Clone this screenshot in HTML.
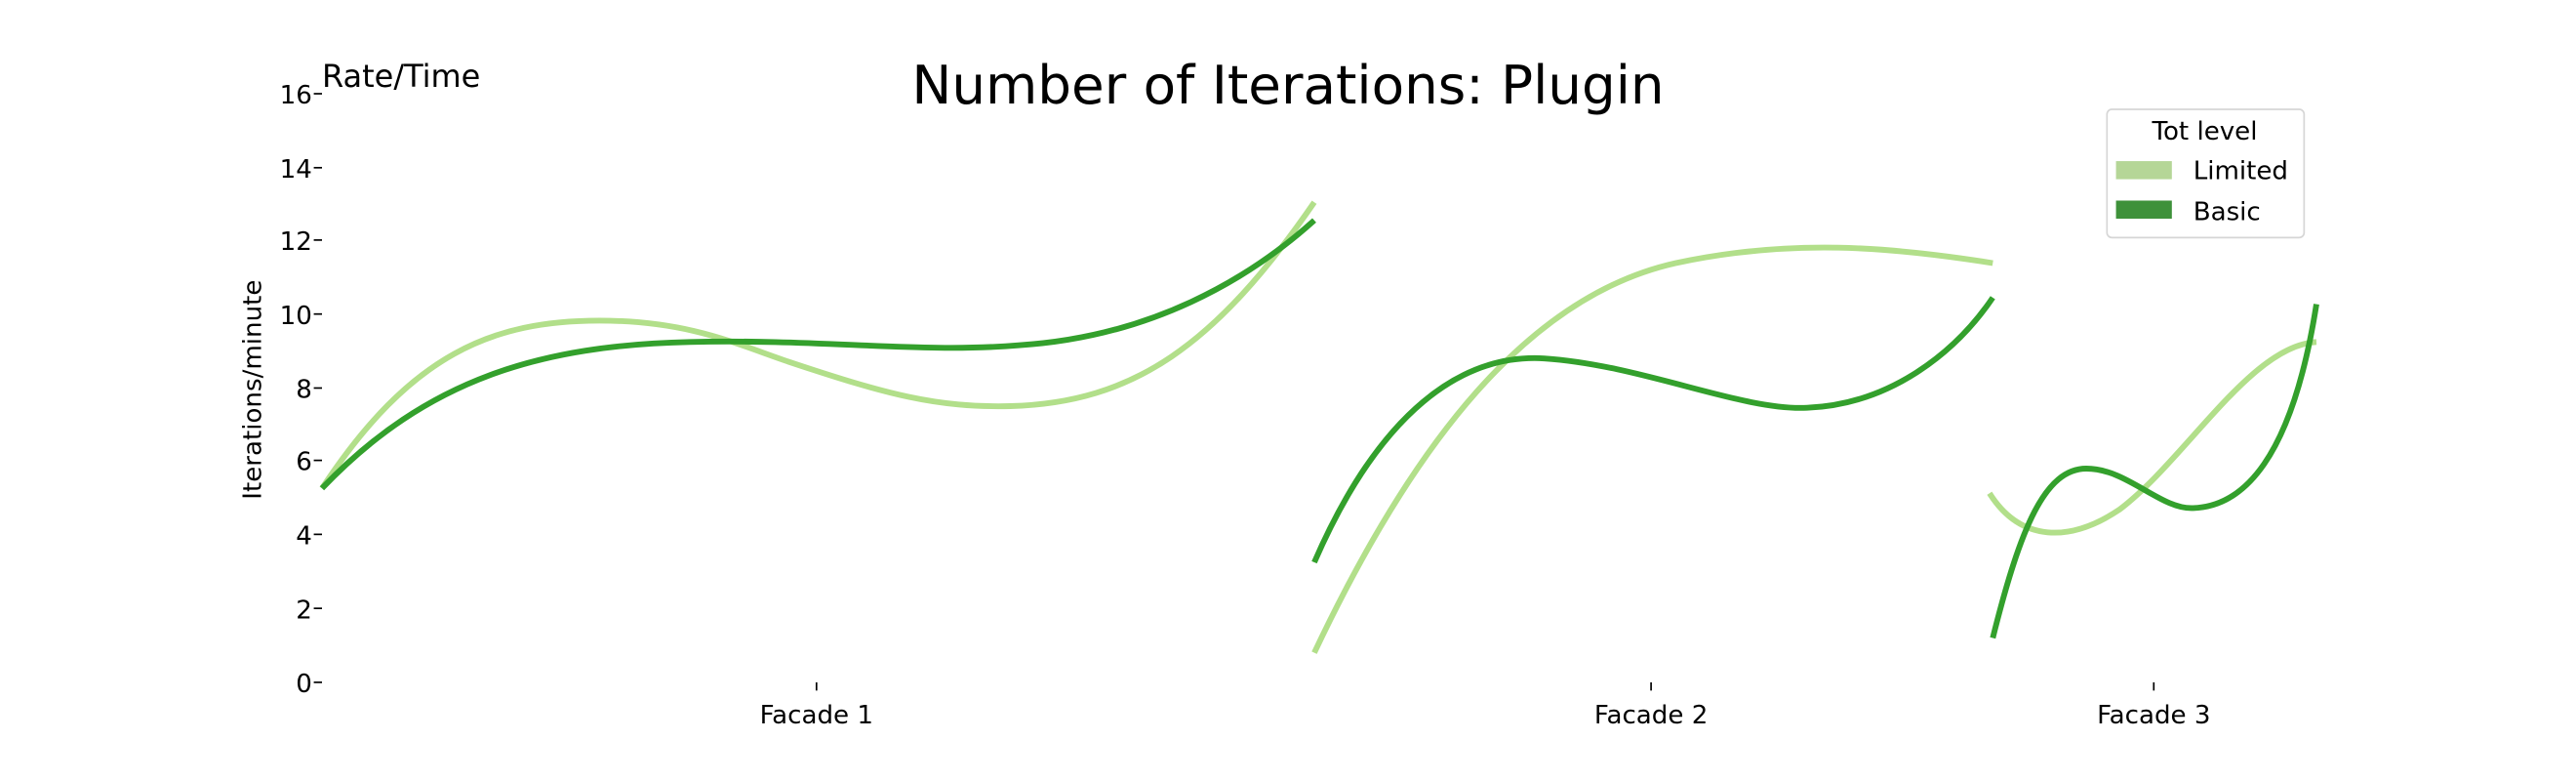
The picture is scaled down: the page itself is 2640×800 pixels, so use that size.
<!DOCTYPE html>
<html><head><meta charset="utf-8"><style>
html,body{margin:0;padding:0;background:#fff;width:2640px;height:800px;overflow:hidden}
svg{display:block}
text{font-family:"DejaVu Sans","Liberation Sans",sans-serif;fill:#000}
</style></head><body>
<svg width="2640" height="800" viewBox="0 0 1568 475" preserveAspectRatio="none">
<rect width="1568" height="475" fill="#fff"/>
<text x="784" y="63" font-size="32.5" text-anchor="middle">Number of Iterations: Plugin</text>
<text x="196" y="53" font-size="19">Rate/Time</text>
<text transform="translate(159,237) rotate(-90)" font-size="15.5" text-anchor="middle">Iterations/minute</text>
<g font-size="15.5" text-anchor="end">
<text x="190" y="63">16</text><text x="190" y="108">14</text><text x="190" y="152">12</text>
<text x="190" y="197">10</text><text x="190" y="242">8</text><text x="190" y="286">6</text>
<text x="190" y="331">4</text><text x="190" y="376">2</text><text x="190" y="421">0</text>
</g>
<g stroke="#000" stroke-width="1">
<line x1="191" y1="57" x2="196" y2="57"/><line x1="191" y1="102" x2="196" y2="102"/>
<line x1="191" y1="146" x2="196" y2="146"/><line x1="191" y1="191" x2="196" y2="191"/>
<line x1="191" y1="236" x2="196" y2="236"/><line x1="191" y1="280" x2="196" y2="280"/>
<line x1="191" y1="325" x2="196" y2="325"/><line x1="191" y1="370" x2="196" y2="370"/>
<line x1="191" y1="415" x2="196" y2="415"/>
<line x1="497" y1="415" x2="497" y2="420"/><line x1="1005" y1="415" x2="1005" y2="420"/><line x1="1311" y1="415" x2="1311" y2="420"/>
</g>
<g font-size="15.5" text-anchor="middle">
<text x="497" y="440">Facade 1</text><text x="1005" y="440">Facade 2</text><text x="1311" y="440">Facade 3</text>
</g>
<g fill="none" stroke-width="3.5">
<path stroke="#b2df8a" d="M196,297 C250,215 300,195 365,195 C420,195 450,210 480,220 C540,240 570,248 615,247 C690,245 740,210 800,123"/>
<path stroke="#33a02c" d="M196,297 C260,230 330,210 420,208 C500,206 560,215 620,210 C700,205 760,170 800,134"/>
<path stroke="#b2df8a" d="M800,397 C860,270 930,180 1020,160 C1090,145 1150,150 1213,160"/>
<path stroke="#33a02c" d="M800,342 C840,250 890,215 940,218 C1000,222 1060,250 1100,248 C1150,246 1190,215 1213,181"/>
<path stroke="#b2df8a" d="M1211,300 C1230,330 1260,330 1290,310 C1330,280 1370,210 1410,208"/>
<path stroke="#33a02c" d="M1213,388 C1230,320 1245,285 1270,285 C1295,285 1315,310 1335,309 C1365,308 1395,280 1410,185"/>
</g>
<rect x="1282.5" y="66.5" width="120" height="78" rx="3" fill="#fff" stroke="#d6d6d6" stroke-width="1"/>
<text x="1342" y="85" font-size="15.5" text-anchor="middle">Tot level</text>
<rect x="1288" y="98" width="34" height="11" fill="#b5d697"/>
<text x="1335" y="109" font-size="15.5">Limited</text>
<rect x="1288" y="122" width="34" height="11" fill="#3e913a"/>
<text x="1335" y="134" font-size="15.5">Basic</text>
</svg>
</body></html>
